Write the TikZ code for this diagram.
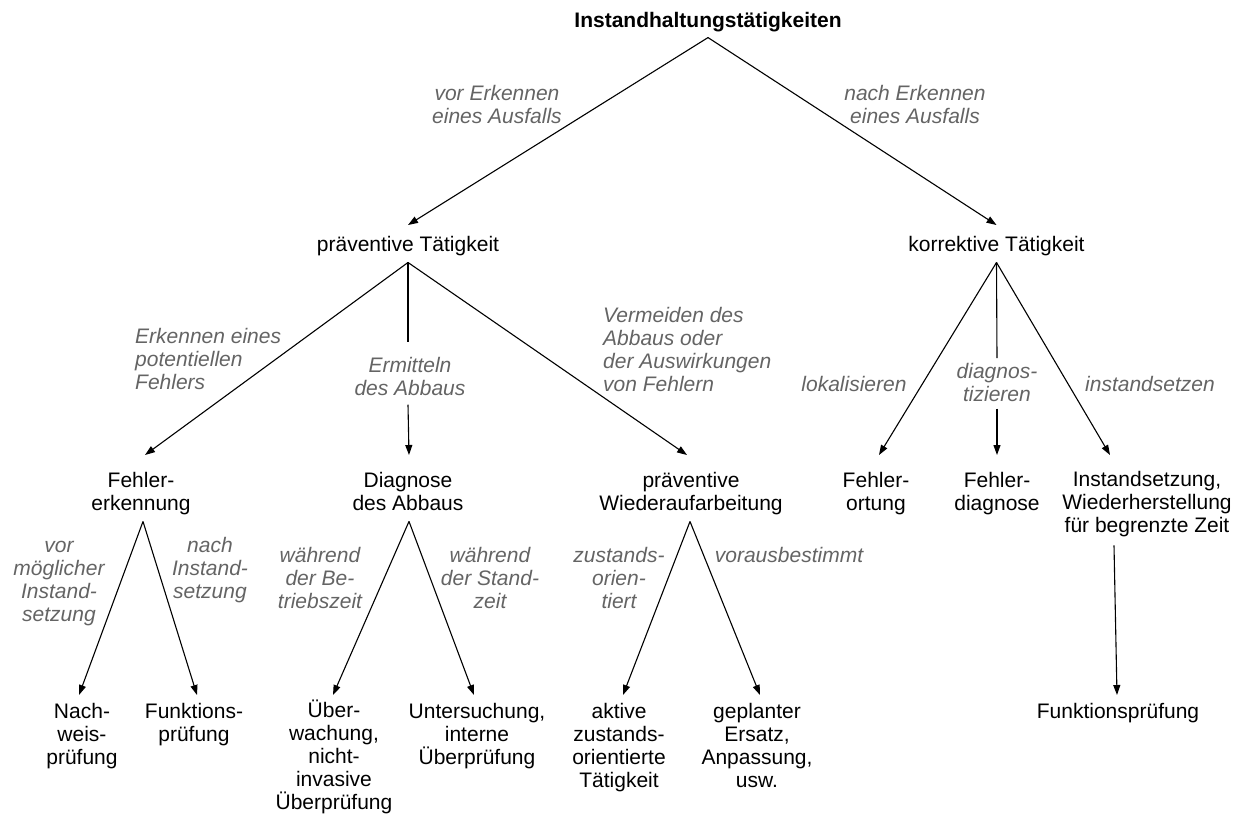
\documentclass[tikz,border=0pt]{standalone}
\usepackage{fontspec}
\setmainfont{Liberation Sans}
\usetikzlibrary{arrows.meta}
\definecolor{lblgray}{RGB}{100,100,100}
\begin{document}
\begin{tikzpicture}[x=1pt,y=-1pt,
  txt/.style={font=\fontsize{21}{23}\selectfont, align=center, inner sep=0pt, anchor=north},
  boldtxt/.style={txt, font=\fontsize{21}{23}\selectfont\bfseries},
  lbl/.style={txt, font=\fontsize{21}{23}\selectfont\itshape, text=lblgray},
  conn/.style={-{Triangle[length=10pt,width=7pt]}, line width=1.1pt},
  seg/.style={line width=1.1pt}]
\useasboundingbox (0,0) rectangle (1243,823);
% main nodes
\node[boldtxt] (root) at (708,11.9) {Instandhaltungstätigkeiten};
\node[txt] (prae) at (408,235.9) {präventive Tätigkeit};
\node[txt] (korr) at (996.5,235.9) {korrektive Tätigkeit};
% level 2
\node[txt] (fe) at (141,471.9) {Fehler-\\erkennung};
\node[txt] (da) at (408,471.9) {Diagnose\\des Abbaus};
\node[txt] (pw) at (691,471.9) {präventive\\Wiederaufarbeitung};
\node[txt] (fo) at (876,471.9) {Fehler-\\ortung};
\node[txt] (fd) at (997,471.9) {Fehler-\\diagnose};
\node[txt] (is) at (1147,470.9) {Instandsetzung,\\Wiederherstellung\\für begrenzte Zeit};
% leaves
\node[txt] (nw) at (82,702.9) {Nach-\\weis-\\prüfung};
\node[txt] (fp) at (194,702.9) {Funktions-\\prüfung};
\node[txt] (ue) at (334,699.9) {Über-\\wachung,\\nicht-\\invasive\\Überprüfung};
\node[txt] (us) at (477,702.9) {Untersuchung,\\interne\\Überprüfung};
\node[txt] (ak) at (619,702.9) {aktive\\zustands-\\orientierte\\Tätigkeit};
\node[txt] (ge) at (757,702.9) {geplanter\\Ersatz,\\Anpassung,\\usw.};
\node[txt] (fp2) at (1118,702.9) {Funktionsprüfung};
% labels
\node[lbl] (l1) at (497,84.9) {vor Erkennen\\eines Ausfalls};
\node[lbl] (l2) at (915,84.9) {nach Erkennen\\eines Ausfalls};
\node[lbl, anchor=north west, align=left] (l3) at (135,327.9) {Erkennen eines\\potentiellen\\Fehlers};
\node[lbl] (l4) at (410,356.9) {Ermitteln\\des Abbaus};
\node[lbl, anchor=north west, align=left] (l5) at (603,306.9) {Vermeiden des\\Abbaus oder\\der Auswirkungen\\von Fehlern};
\node[lbl] (l6) at (854,375.9) {lokalisieren};
\node[lbl] (l7) at (997,362.9) {diagnos-\\tizieren};
\node[lbl] (l8) at (1150,375.9) {instandsetzen};
\node[lbl] (l9) at (59,541.1) {vor\\möglicher\\Instand-\\setzung};
\node[lbl] (l10) at (210,536.9) {nach\\Instand-\\setzung};
\node[lbl] (l11) at (320,546.9) {während\\der Be-\\triebszeit};
\node[lbl] (l12) at (490,546.9) {während\\der Stand-\\zeit};
\node[lbl] (l13) at (619,546.9) {zustands-\\orien-\\tiert};
\node[lbl] (l14) at (789,546.9) {vorausbestimmt};
% connectors
\draw[conn] ([yshift=-5.6pt]root.south) -- ([yshift=10.9pt]prae.north);
\draw[conn] ([yshift=-5.6pt]root.south) -- ([yshift=10.9pt]korr.north);
\draw[conn] ([yshift=-6.6pt]prae.south) -- ([xshift=4pt,yshift=16.9pt]fe.north);
\draw[seg]  ([yshift=-6.6pt]prae.south) -- ([xshift=-2pt,yshift=14.9pt]l4.north);
\draw[conn] ([xshift=-2pt,yshift=-9pt]l4.south) -- ([xshift=1pt,yshift=16.9pt]da.north);
\draw[conn] ([yshift=-6.6pt]prae.south) -- ([xshift=-4pt,yshift=16.9pt]pw.north);
\draw[conn] ([yshift=-6.6pt]korr.south) -- ([xshift=3pt,yshift=16.9pt]fo.north);
\draw[seg]  ([yshift=-6.6pt]korr.south) -- ([yshift=4.9pt]l7.north);
\draw[conn] ([yshift=-7pt]l7.south) -- ([yshift=16.9pt]fd.north);
\draw[conn] ([yshift=-6.6pt]korr.south) -- ([xshift=-37pt,yshift=15.9pt]is.north);
\draw[conn] ([xshift=2pt,yshift=-6.6pt]fe.south) -- ([xshift=-3pt,yshift=7.9pt]nw.north);
\draw[conn] ([xshift=2pt,yshift=-6.6pt]fe.south) -- ([xshift=3pt,yshift=7.9pt]fp.north);
\draw[conn] ([xshift=1pt,yshift=-10.7pt]da.south) -- ([xshift=-1pt,yshift=4.9pt]ue.north);
\draw[conn] ([xshift=1pt,yshift=-10.7pt]da.south) -- ([xshift=-3pt,yshift=7.9pt]us.north);
\draw[conn] ([xshift=-1pt,yshift=-6.6pt]pw.south) -- ([xshift=4pt,yshift=7.9pt]ak.north);
\draw[conn] ([xshift=-1pt,yshift=-6.6pt]pw.south) -- ([xshift=3pt,yshift=7.9pt]ge.north);
\draw[conn] ([xshift=-33pt,yshift=-8.6pt]is.south) -- ([xshift=-1pt,yshift=7.9pt]fp2.north);
\end{tikzpicture}
\end{document}
